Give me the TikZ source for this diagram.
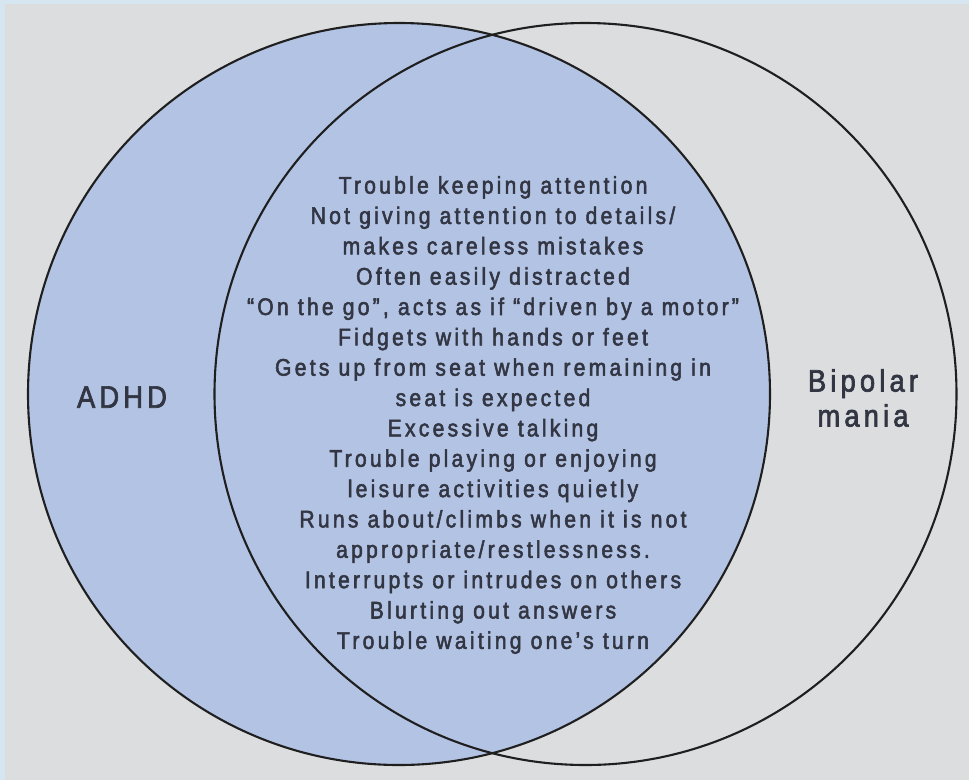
\documentclass[tikz,border=0pt]{standalone}
\usepackage{fontspec}
\setmainfont{Liberation Sans}[FakeStretch=0.88, LetterSpace=13.5, FakeBold=2.2]
\definecolor{bgc}{RGB}{220,221,223}
\definecolor{framec}{RGB}{214,230,240}
\definecolor{bluefill}{RGB}{179,195,228}
\definecolor{txt}{RGB}{50,53,66}
\tikzset{
  setcircle/.style={circle, inner sep=0pt, outer sep=0pt, minimum size=742pt, line width=2.1pt, draw=black!88},
  itemtext/.style={text=txt, align=center, font=\fontsize{24}{30.35}\selectfont, inner sep=0pt},
  setlabel/.style={text=txt, align=center, font=\fontsize{31}{35}\selectfont, inner sep=0pt}
}
\begin{document}
\begin{tikzpicture}[x=1pt,y=-1pt]
\useasboundingbox (0,0) rectangle (969,780);
\fill[framec] (0,0) rectangle (969,780);
\fill[bgc] (5,4) rectangle (969,780);
\node[setcircle, fill=bluefill] (adhdset) at (399,394) {};
\node[setcircle] (bipolarset) at (585.5,394) {};
\node[setlabel] (adhdlabel) at (122,397) {ADHD};
\node[setlabel] (bipolarlabel) at (863,398) {Bipolar\\mania};
\node[itemtext] (shared) at (493,415) {Trouble keeping attention\\
Not giving attention to details/\\
makes careless mistakes\\
Often easily distracted\\
``On the go'', acts as if ``driven by a motor''\\
Fidgets with hands or feet\\
Gets up from seat when remaining in\\
seat is expected\\
Excessive talking\\
Trouble playing or enjoying\\
leisure activities quietly\\
Runs about/climbs when it is not\\
appropriate/restlessness.\\
Interrupts or intrudes on others\\
Blurting out answers\\
Trouble waiting one’s turn};
\end{tikzpicture}
\end{document}
